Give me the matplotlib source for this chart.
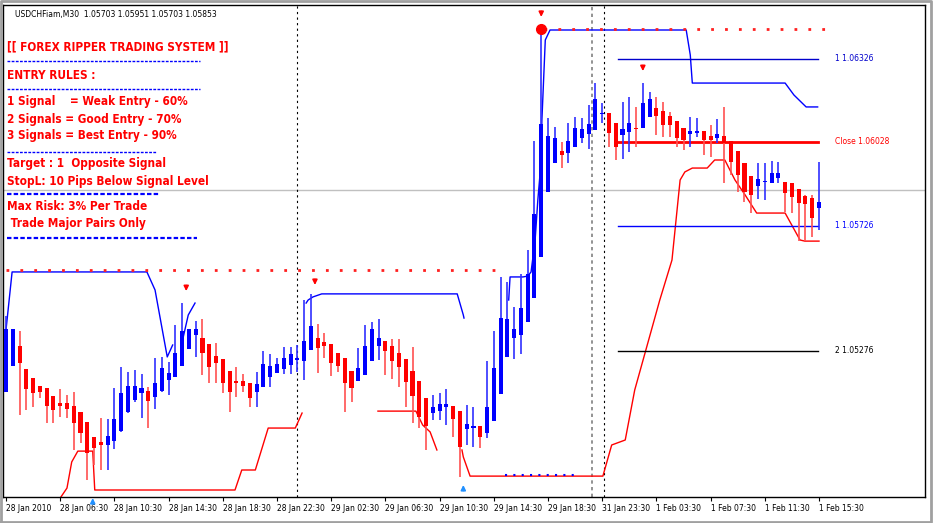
import matplotlib
matplotlib.use("Agg")
import matplotlib.pyplot as plt
from matplotlib.lines import Line2D
import numpy as np

B = 1.05
o = [127,220,289,206,174,148,141,109,87,84,73,51,15,-39,-57,-64,-50,-14,55,98,123,130,109,130,170,181,220,282,332,318,
     296,256,242,199,163,163,156,127,145,181,195,210,224,242,238,278,318,303,296,264,246,199,166,188,238,292,310,292,267,242,
     202,163,102,51,58,73,73,55,-6,-3,1,-21,22,120,253,321,332,379,465,613,847,951,994,987,1009,1041,1056,1070,1128,1128,
     1095,1052,1063,1077,1077,1117,1149,1138,1117,1102,1074,1056,1059,1063,1048,1041,1048,1027,994,951,901,868,883,879,897,879,
     876,854,829,822,789]
c = [350,350,231,138,123,127,76,62,76,66,15,-21,-93,-75,-64,-32,26,120,145,148,138,94,156,213,192,264,346,350,350,267,
     217,231,159,127,159,148,105,152,224,217,224,246,260,246,307,361,285,292,231,220,159,141,210,292,350,321,274,238,217,163,
     112,37,4,69,80,80,30,-71,8,1,-35,69,213,390,386,350,429,548,764,1088,1048,1038,980,1027,1074,1070,1088,1178,1131,1059,
     1009,1070,1092,1074,1164,1178,1120,1088,1088,1041,1034,1063,1066,1034,1034,1052,1023,955,908,847,836,890,886,915,912,843,
     829,807,804,753,807]
h = [400,350,346,206,174,148,141,109,138,116,127,51,15,-39,33,30,141,217,199,206,192,145,249,253,235,368,447,350,382,390,
     296,303,242,199,217,192,156,199,274,264,249,289,289,296,458,480,372,339,296,264,246,199,285,368,379,390,310,318,318,242,
     289,163,102,116,123,138,73,55,80,73,1,238,346,541,523,433,552,638,1030,1434,1113,1081,1027,1095,1117,1113,1160,1239,1167,1128,
     1095,1171,1189,1153,1239,1207,1189,1171,1135,1102,1074,1117,1113,1063,1088,1110,1153,1027,994,951,901,951,951,958,955,879,
     876,854,836,836,955]
l = [127,220,44,62,73,105,15,15,37,33,-82,-57,-190,-136,-154,-154,-78,-17,51,91,33,-3,66,127,116,181,220,282,253,188,
     159,159,123,55,109,127,73,73,145,145,195,192,192,199,170,278,195,249,184,199,55,91,166,188,238,242,188,174,145,73,
     15,-3,-82,26,26,8,-35,-179,-64,-71,-75,-39,22,120,253,246,264,379,465,613,847,951,933,951,1009,1023,1002,1070,1095,1009,
     962,966,991,1009,1077,1117,1052,1045,1045,1009,998,1009,1045,980,973,1023,879,908,847,811,771,822,818,879,879,775,
     771,670,670,685,710]
opens = B + np.array(o) / 1e5
closes = B + np.array(c) / 1e5
highs = B + np.array(h) / 1e5
lows = B + np.array(l) / 1e5

tick_labels = ["28 Jan 2010", "28 Jan 06:30", "28 Jan 10:30", "28 Jan 14:30", "28 Jan 18:30", "28 Jan 22:30",
               "29 Jan 02:30", "29 Jan 06:30", "29 Jan 10:30", "29 Jan 14:30", "29 Jan 18:30", "31 Jan 23:30",
               "1 Feb 03:30", "1 Feb 07:30", "1 Feb 11:30", "1 Feb 15:30"]

blue_a = [(0, 350), (0.9, 559), (20.8, 559), (22.0, 494), (23.8, 253), (24.6, 296)]
blue_a2 = [(26.0, 307), (26.9, 404), (27.9, 447)]
blue_b = [(44.3, 447), (44.6, 458), (45.3, 469), (46.6, 480), (66.6, 480), (67.5, 404), (67.6, 393)]
blue_c = [(74.2, 458), (74.4, 541), (76.3, 541), (77.0, 544), (77.5, 559), (78.1, 674), (78.5, 818), (79.0, 962),
          (79.1, 1106), (79.6, 1394), (80.3, 1430), (100.4, 1430), (101.0, 1340), (101.3, 1239), (115.0, 1239),
          (116.3, 1196), (118.1, 1153), (119.8, 1153)]
red_a = [(4.9, -255), (8.0, -255), (9.0, -219), (9.7, -125), (10.6, -86), (12.8, -86), (13.1, -226), (33.8, -226),
         (34.8, -154), (36.8, -154), (38.7, -3), (42.7, -3), (43.7, 51)]
red_b = [(54.9, 58), (60.5, 58), (61.5, 8), (62.6, -17), (63.6, -82)]
red_c = [(67.3, -82), (67.5, -107), (68.5, -176), (88.1, -176), (89.4, -64), (91.4, -46), (92.8, 134), (96.5, 458),
         (98.3, 602), (99.5, 890), (100.2, 919), (101.3, 933), (103.5, 933), (104.6, 962), (106.1, 962), (107.6, 890),
         (109.1, 836), (110.8, 771), (115.0, 771), (117.2, 674), (117.9, 670), (120.0, 670)]
levels = [1.06326, 1.06028, 1.05726, 1.05276]
level_labels = ["1 1.06326", "Close 1.06028", "1 1.05726", "2 1.05276"]
level_colors = ["#0000cc", "#ff0000", "#0000ff", "#000000"]
sell_arrows = [(26.6, 1.05490), (45.6, 1.05512), (79.0, 1.06477), (94.0, 1.06282)]
buy_arrows = [(12.8, 1.04745), (67.5, 1.04792)]
bid = 1.05853

W, H = 934, 523
fig = plt.figure(figsize=(W / 100, H / 100), dpi=100)
fig.patch.set_facecolor("white")

def px(x, y):
    return x / W, 1 - y / H

ax = fig.add_axes([3 / W, 1 - 497 / H, (925 - 3) / W, (497 - 5) / H])
spx = 6.775
ax.set_xlim((3 - 6) / spx, (925 - 6) / spx)
ax.set_ylim(B + (1538 - 3.6 * 497) / 1e5, B + (1538 - 3.6 * 5) / 1e5)

idx = np.arange(len(opens))
up = closes >= opens
col = np.where(up, "#0000ff", "#ff0000")
wcol = np.where(up, "#3030ff", "#ff5050")
ax.vlines(idx, lows, highs, colors=wcol, linewidth=1.2, zorder=3)
ax.bar(idx, np.abs(closes - opens) + 0.00002, bottom=np.minimum(opens, closes), width=0.6,
       color=col, linewidth=0, zorder=4)

def pl(pts, color, **kw):
    xs = [p[0] for p in pts]
    ys = [B + p[1] / 1e5 for p in pts]
    ax.plot(xs, ys, color=color, linewidth=1, zorder=2, **kw)

for seg in (blue_a, blue_a2, blue_b, blue_c):
    pl(seg, "#0000ff")
for seg in (red_a, red_b, red_c):
    pl(seg, "#ff0000")

ax.plot([0, 73.7], [1.05566, 1.05566], color="#ff2020", linestyle=(0, (1, 4)), linewidth=2, zorder=2)
ax.plot([79.4, 121], [1.06434, 1.06434], color="#ff2020", linestyle=(0, (1, 4)), linewidth=2, zorder=2)
ax.plot([73.7, 84.7], [1.04828, 1.04828], color="#0000ff", linestyle=(0, (1, 3)), linewidth=1.5, zorder=2)

for lv, lab, lc in zip(levels, level_labels, level_colors):
    ax.plot([90.3, 119.9], [lv, lv], color=lc, linewidth=2 if lab.startswith("Close") else 1, zorder=2)
    ax.text(122.3, lv, lab, color=lc, fontsize=5.5, va="center", ha="left")

ax.axhline(bid, color="#c0c0c0", linewidth=1, zorder=1)
ax.axvline(42.95, color="#000000", linestyle=(0, (2, 3)), linewidth=0.8, zorder=1)
ax.axvline(86.5, color="#808080", linestyle=(0, (2, 2)), linewidth=1.2, zorder=1)
ax.axvline(88.3, color="#000000", linestyle=(0, (2, 3)), linewidth=0.8, zorder=1)

for x, y in sell_arrows:
    ax.annotate("", xy=(x, y - 0.00010), xytext=(x, y + 0.00030),
                arrowprops=dict(arrowstyle="-|>", color="#ff0000", lw=1.2, mutation_scale=7))
ax.plot([79.0], [1.06434], "o", color="#ff0000", markersize=7, zorder=5)
for x, y in buy_arrows:
    ax.annotate("", xy=(x, y + 0.00010), xytext=(x, y - 0.00030),
                arrowprops=dict(arrowstyle="-|>", color="#2090ff", lw=1.2, mutation_scale=7))

ax.set_xticks(np.arange(0, 121, 8))
ax.set_xticklabels(tick_labels, fontsize=5.5, ha="left")
ax.tick_params(axis="x", length=3, pad=2, direction="out")
ax.set_yticks([])
for s in ax.spines.values():
    s.set_color("black")
    s.set_linewidth(1)

fig.text(*px(15, 14), "USDCHFiam,M30  1.05703 1.05951 1.05703 1.05853", fontsize=5.5, va="center", color="black")
lines_txt = [("[[ FOREX RIPPER TRADING SYSTEM ]]", 47), ("ENTRY RULES :", 75),
             ("1 Signal    = Weak Entry - 60%", 102), ("2 Signals = Good Entry - 70%", 119),
             ("3 Signals = Best Entry - 90%", 136), ("Target : 1  Opposite Signal", 164),
             ("StopL: 10 Pips Below Signal Level", 181), ("Max Risk: 3% Per Trade", 207),
             (" Trade Major Pairs Only", 224)]
for t, y in lines_txt:
    fig.text(*px(7, y), t, fontsize=8.5, fontweight="bold", color="#ff0000", va="center",
             family="DejaVu Sans", fontstretch="condensed")
for y, x2, lw in [(61, 200, 1), (89, 200, 1), (152, 157, 1), (194, 160, 1.6), (238, 197, 1.6)]:
    fig.add_artist(Line2D([7 / W, x2 / W], [1 - y / H, 1 - y / H], color="#0000ff",
                          linestyle=(0, (2, 1)), linewidth=lw))

fig.add_artist(Line2D([1 / W, 1 / W, 931 / W, 931 / W, 1 / W], [1 / H, 1 - 1 / H, 1 - 1 / H, 1 / H, 1 / H],
                      color="#a0a0a0", linewidth=2))
fig.savefig("out.png", dpi=100)
